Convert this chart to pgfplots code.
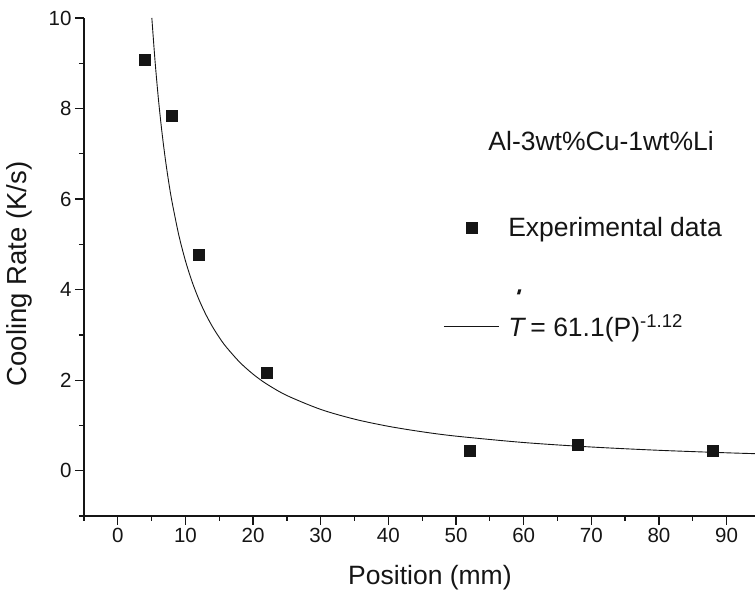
\documentclass[border=0pt]{standalone}
\usepackage{fontspec}
\setmainfont{Liberation Sans}
\usepackage{pgfplots}
\pgfplotsset{compat=1.18}
\definecolor{ink}{HTML}{151515}
\begin{document}
\begin{tikzpicture}
\begin{axis}[
  at={(0,0)}, anchor=south west,
  scale only axis, width=671pt, height=498pt,
  xmin=-5, xmax=94.2, ymin=-1, ymax=10,
  axis x line*=bottom, axis y line*=left,
  axis line style={line width=1.3pt, -, ink},
  xtick={0,10,...,90}, ytick={0,2,...,10},
  minor xtick={-5,5,15,25,35,45,55,65,75,85},
  minor ytick={-1,1,3,5,7,9},
  tick align=outside, major tick length=9pt, minor tick length=5pt,
  every tick/.style={line width=1.3pt, ink},
  tick label style={font=\fontsize{20.5}{22}\selectfont, text=ink},
  /pgf/number format/assume math mode=true,
  xlabel={Position (mm)}, ylabel={Cooling Rate (K/s)},
  x label style={at={(axis description cs:0.5156,0)}, anchor=base, yshift=-69pt,
    font=\fontsize{26.5}{28}\selectfont, text=ink},
  y label style={at={(axis description cs:-0.085,0.486)}, anchor=base,
    font=\fontsize{27.5}{29}\selectfont, text=ink},
  legend image code/.code={\draw[mark repeat=2,mark phase=2,#1] plot coordinates {(0pt,0pt) (27.5pt,0pt) (55pt,0pt)};},
  legend cell align=left,
  legend style={draw=none, fill=none, at={(axis cs:48.1,5.63)}, anchor=north west,
    inner sep=0pt, row sep=75pt, column sep=8pt,
    nodes={inner sep=1pt, font=\fontsize{26.5}{28}\selectfont, text=ink}},
  clip=false,
]
\addplot[only marks, mark=square*, mark size=5.5pt, ink, mark options={fill=ink, draw=ink}]
  coordinates {(4,9.07) (8,7.85) (12,4.77) (22,2.17) (52,0.45) (68,0.57) (88,0.45)};
\addlegendentry{Experimental data}
\addplot[ink, line width=0.9pt, smooth]
  coordinates {(5.03,10.0) (5.5,9.055) (6,8.213) (6.5,7.509) (7,6.911) (7.5,6.397) (8,5.951) (9,5.215) (10,4.635) (11,4.166) (12,3.779) (13,3.455) (14,3.180) (15,2.943) (16,2.738) (18,2.400) (20,2.132) (22,1.916) (25,1.661) (30,1.354) (35,1.139) (40,0.981) (45,0.860) (50,0.764) (60,0.623) (70,0.524) (80,0.451) (90,0.396) (94.2,0.377)};
\addlegendentry{\textit{T}\,= 61.1(P)\textsuperscript{-1.12}}
\node[font=\fontsize{26.5}{28}\selectfont, text=ink, anchor=base] at (axis cs:71.45,7.07) {Al-3wt\%Cu-1wt\%Li};
\fill[ink] (axis cs:59.33,3.95) ++(-2.2pt,-2.5pt) -- ++(3pt,0pt) -- ++(1.4pt,5pt) -- ++(-3pt,0pt) -- cycle;
\end{axis}
\pgfresetboundingbox
\path (-84pt,-77pt) rectangle (671pt,516pt);
\end{tikzpicture}
\end{document}
